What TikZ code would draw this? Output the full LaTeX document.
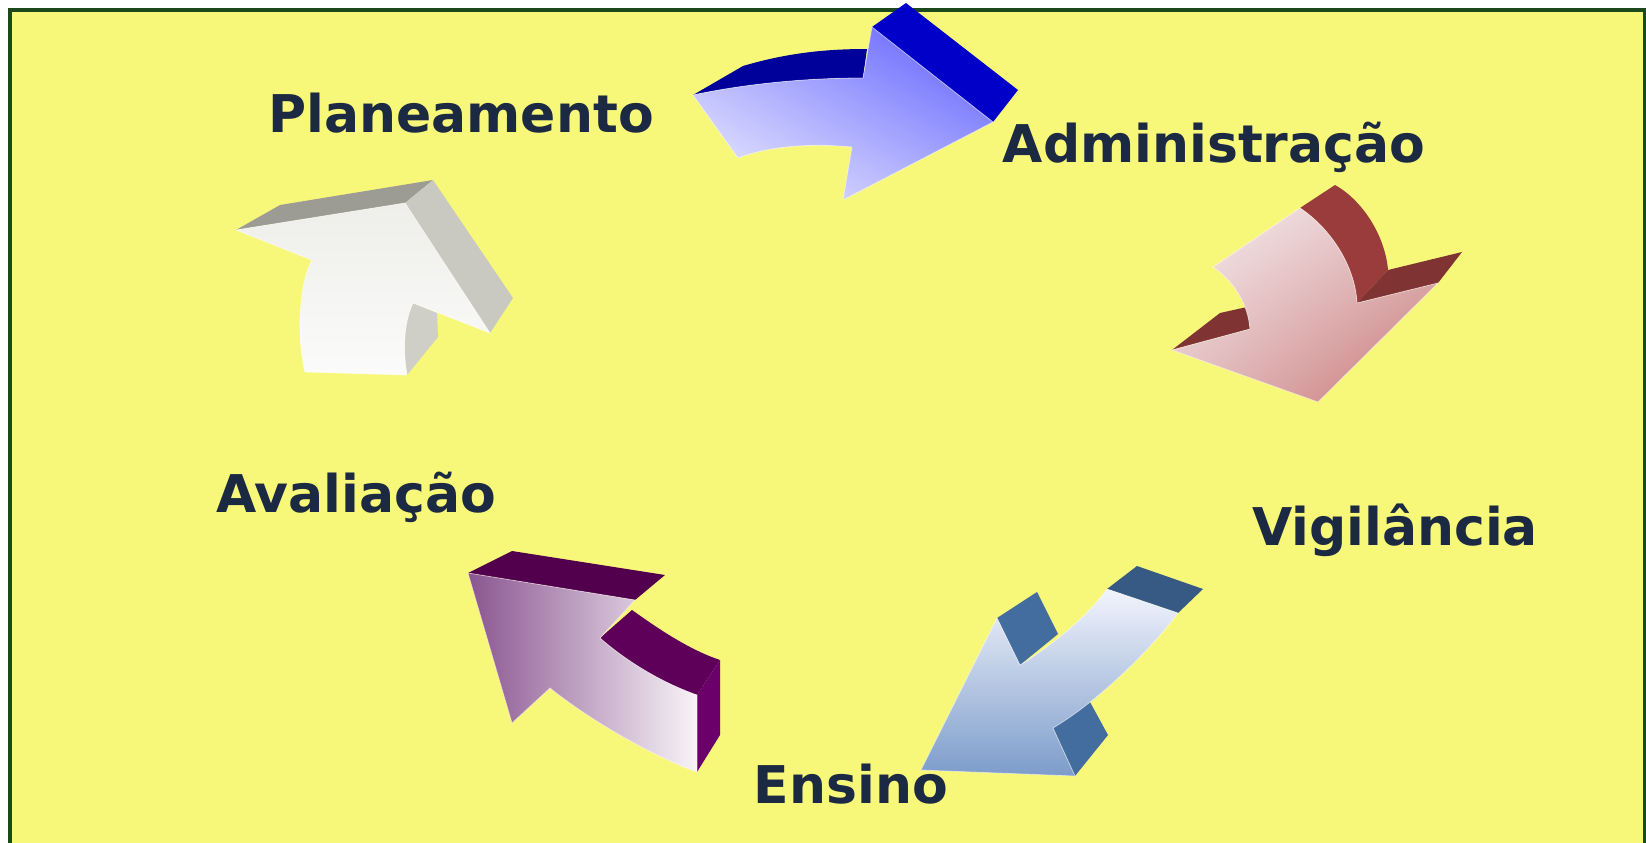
\documentclass[tikz,border=0pt]{standalone}
\usepackage{fontspec}
\setmainfont{DejaVu Sans}
\usepackage{tikz}
\usetikzlibrary{shadings}

\definecolor{bg}{RGB}{247,247,122}
\definecolor{frame}{RGB}{28,72,28}
\definecolor{ink}{RGB}{28,41,66}
\definecolor{adm1}{RGB}{0,0,154}
\definecolor{adm2}{RGB}{0,0,200}
\definecolor{admL}{RGB}{244,244,255}
\definecolor{admM}{RGB}{170,170,255}
\definecolor{admD}{RGB}{88,88,255}
\definecolor{vig1}{RGB}{154,60,60}
\definecolor{vig2}{RGB}{127,51,51}
\definecolor{vigL}{RGB}{248,240,242}
\definecolor{vigM}{RGB}{226,190,192}
\definecolor{vigD}{RGB}{200,116,116}
\definecolor{ens1}{RGB}{55,90,132}
\definecolor{ens2}{RGB}{67,108,159}
\definecolor{ensL}{RGB}{242,244,252}
\definecolor{ensD}{RGB}{124,156,203}
\definecolor{ava1}{RGB}{82,0,77}
\definecolor{ava2}{RGB}{94,0,90}
\definecolor{ava3}{RGB}{108,0,106}
\definecolor{avaL}{RGB}{248,244,248}
\definecolor{avaD}{RGB}{138,85,144}
\definecolor{pla1}{RGB}{156,156,148}
\definecolor{pla2}{RGB}{201,201,193}
\definecolor{pla3}{RGB}{207,207,200}
\definecolor{plaT}{RGB}{238,238,234}
\definecolor{plaB}{RGB}{251,251,251}

\begin{document}
\begin{tikzpicture}[x=0.5pt,y=-0.5pt,
		lbl/.style={anchor=base,text=ink,font=\fontsize{26}{30}\selectfont\bfseries,inner sep=0pt},
		face/.style={draw=white,draw opacity=0.5,line width=0.4pt}]
		\useasboundingbox (0,0) rectangle (1646,842);
		\fill[white] (0,0) rectangle (1646,842);
		\filldraw[fill=bg,draw=frame,line width=1.6pt] (10,10) rectangle (1645,880);
		% Planeamento -> Administracao
		\fill[adm1] (693,95) -- (743,66) .. controls (790,52) and (830,49) .. (867,49) -- (863,78) .. controls (800,78) and (740,85) .. (693,95) -- cycle;
		\fill[adm2] (872,27) -- (906,3) -- (1018,90) -- (993,122) -- cycle;
		\shade[face,lower left=admL,upper right=admD,upper left=admM,lower right=admM] (693,95) .. controls (740,85) and (800,78) .. (863,78) -- (872,27) -- (993,122) -- (843,200) -- (852,147) .. controls (810,143) and (770,146) .. (738,158) -- cycle;
		% Administracao -> Vigilancia
		\fill[vig1] (1300,208) -- (1335,185) .. controls (1362,200) and (1385,235) .. (1388,270) -- (1357,303) .. controls (1355,265) and (1330,228) .. (1300,208) -- cycle;
		\fill[vig2] (1357,303) -- (1388,270) -- (1462,252) -- (1438,283) -- cycle;
		\fill[vig2] (1172,350) -- (1220,313) -- (1247,307) -- (1250,329) -- cycle;
		\shade[face,upper left=vigL,lower right=vigD,upper right=vigM,lower left=vigM] (1300,208) .. controls (1330,228) and (1355,265) .. (1357,303) -- (1438,283) -- (1318,402) -- (1172,350) -- (1250,329) .. controls (1248,305) and (1235,282) .. (1213,267) -- cycle;
		% Vigilancia -> Ensino
		\fill[ens1] (1107,589) -- (1137,566) -- (1203,589) -- (1178,613) -- cycle;
		\fill[ens2] (997,618) -- (1037,592) -- (1058,634) -- (1020,665) -- cycle;
		\fill[ens2] (1053,728) -- (1090,702) -- (1108,735) -- (1075,776) -- cycle;
		\shade[face,top color=ensL,bottom color=ensD] (1107,589) -- (1178,613) .. controls (1150,650) and (1100,700) .. (1053,728) -- (1075,776) -- (921,770) -- (997,618) -- (1020,665) .. controls (1045,650) and (1085,620) .. (1107,589) -- cycle;
		% Ensino -> Avaliacao
		\fill[ava1] (468,573) -- (512,551) -- (665,575) -- (635,600) -- cycle;
		\fill[ava2] (632,610) -- (600,638) .. controls (625,660) and (660,682) .. (697,695) -- (720,660) .. controls (690,650) and (660,630) .. (632,610) -- cycle;
		\fill[ava3] (697,695) -- (720,660) -- (720,735) -- (697,772) -- cycle;
		\shade[face,left color=avaD,right color=avaL] (468,573) -- (635,600) -- (600,638) .. controls (625,660) and (660,682) .. (697,695) -- (697,772) .. controls (650,755) and (590,720) .. (550,688) -- (512,723) -- cycle;
		% Avaliacao -> Planeamento
		\fill[pla1] (236,230) -- (280,205) -- (433,180) -- (405,203) -- cycle;
		\fill[pla2] (405,203) -- (433,180) -- (513,298) -- (490,333) -- cycle;
		\fill[pla3] (413,303) -- (437,313) -- (438,337) -- (407,375) .. controls (402,345) and (405,320) .. (413,303) -- cycle;
		\shade[face,top color=plaT,bottom color=plaB] (236,230) -- (405,203) -- (490,333) -- (413,303) .. controls (405,320) and (402,345) .. (407,375) -- (305,372) .. controls (297,340) and (298,285) .. (312,260) -- cycle;
		\node[lbl] (P) at (461,132) {Planeamento};
		\node[lbl] (A) at (1214,162) {Administração};
		\node[lbl] (V) at (1395,545) {Vigilância};
		\node[lbl] (E) at (851,803) {Ensino};
		\node[lbl] (AV) at (356,512) {Avaliação};
\end{tikzpicture}
\end{document}
